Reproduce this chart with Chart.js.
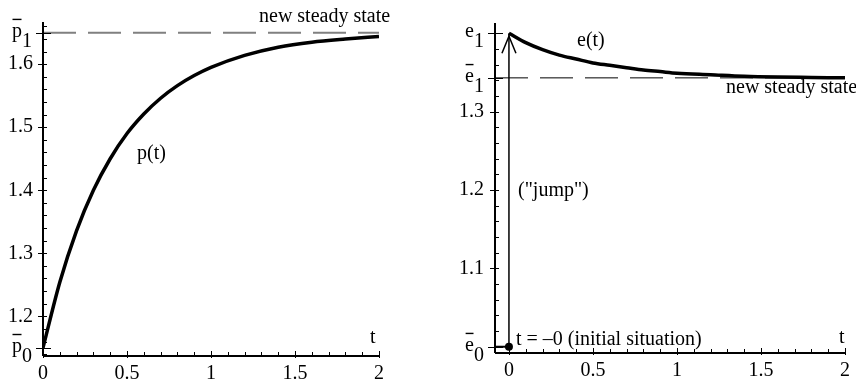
<!DOCTYPE html>
<html>
<head>
<meta charset="utf-8">
<script src="https://cdn.jsdelivr.net/npm/chart.js@4.4.1/dist/chart.umd.min.js"></script>
<style>
  html, body { margin: 0; padding: 0; background: #fff; }
  #wrap { position: relative; width: 856px; height: 380px; }
  canvas { position: absolute; top: 0; }
</style>
</head>
<body>
<div id="wrap">
  <canvas id="chart-p" width="430" height="380" style="left:0"></canvas>
  <canvas id="chart-e" width="426" height="380" style="left:430px"></canvas>
</div>
<script>
// values
const tValues = [0, 0.1, 0.2, 0.3, 0.4, 0.5, 0.6, 0.7, 0.8, 0.9, 1.0, 1.2, 1.4, 1.6, 1.8, 2.0];
const pValues = [1.150, 1.254, 1.336, 1.400, 1.450, 1.490, 1.521, 1.546, 1.566, 1.582, 1.595, 1.614, 1.627, 1.635, 1.640, 1.644];
const eValues = [1.400, 1.388, 1.379, 1.372, 1.367, 1.362, 1.359, 1.356, 1.353, 1.351, 1.349, 1.347, 1.345, 1.344, 1.3435, 1.343];

const pOld = 1.15;
const pNew = 1.65;
const eOld = 1.0;
const eJump = 1.4;
const eNew = 1.343;

const xTicks = [0, 0.5, 1, 1.5, 2];
const pTicks = [1.2, 1.3, 1.4, 1.5, 1.6];
const eTicks = [1.1, 1.2, 1.3];

const FONT = '"Liberation Serif", "Times New Roman", serif';
Chart.defaults.font.family = FONT;
Chart.defaults.font.size = 20;
Chart.defaults.color = '#000';

const pts = (xs, ys) => xs.map((x, i) => ({ x, y: ys[i] }));

function barLabel(ctx, letter, sub, right, yPix, bar) {
  ctx.font = '20px ' + FONT;
  const wl = ctx.measureText(letter).width;
  const ws = ctx.measureText(sub).width;
  const x0 = right - ws - wl;
  ctx.textAlign = 'left';
  ctx.textBaseline = 'alphabetic';
  ctx.fillText(letter, x0, yPix + 4);
  ctx.fillText(sub, x0 + wl, yPix + 14);
  if (bar) ctx.fillRect(x0 + 0.5, yPix - 14, wl - 1, 1.4);
}

// axes, ticks, special labels and notes (Maple style)
const decor = {
  id: 'decor',
  afterDatasetsDraw(chart, args, o) {
    const ctx = chart.ctx;
    const sx = chart.scales.x, sy = chart.scales.y;
    const { left, right, top, bottom } = chart.chartArea;
    ctx.save();
    ctx.strokeStyle = '#000';
    ctx.fillStyle = '#000';

    // axis lines
    ctx.lineWidth = 2;
    ctx.beginPath();
    ctx.moveTo(left, top); ctx.lineTo(left, bottom);
    ctx.moveTo(left, bottom); ctx.lineTo(right + 1, bottom);
    ctx.stroke();

    // y ticks
    ctx.lineWidth = 1;
    ctx.beginPath();
    for (let v = o.yMinor[0]; v <= o.yMinor[1] + 1e-9; v += 0.02) {
      const py = Math.round(sy.getPixelForValue(v)) + 0.5;
      ctx.moveTo(left, py); ctx.lineTo(left + 4, py);
    }
    o.yMajor.forEach(v => {
      const py = Math.round(sy.getPixelForValue(v)) + 0.5;
      ctx.moveTo(left - 5, py); ctx.lineTo(left + 2, py);
    });
    o.special.forEach(s => {
      const py = Math.round(sy.getPixelForValue(s.v)) + 0.5;
      ctx.moveTo(left - 7, py); ctx.lineTo(left + 8, py);
    });
    // x ticks
    for (let t = 0.1; t <= 2.0001; t += 0.1) {
      const px = Math.round(sx.getPixelForValue(t)) + 0.5;
      ctx.moveTo(px, bottom); ctx.lineTo(px, bottom - 4);
    }
    xTicks.forEach(t => {
      const px = Math.round(sx.getPixelForValue(t)) + 0.5;
      ctx.moveTo(px, bottom + 2); ctx.lineTo(px, bottom - 5);
    });
    ctx.stroke();

    // labels with bar and subscript
    o.special.forEach(s => barLabel(ctx, s.letter, s.sub, left - 11, sy.getPixelForValue(s.v), s.bar));

    // arrow head of the jump
    if (o.arrow) {
      const ax = sx.getPixelForValue(o.arrow.x);
      const ay = sy.getPixelForValue(o.arrow.y) + 3;
      ctx.lineWidth = 1.5;
      ctx.beginPath();
      ctx.moveTo(ax - 7, ay + 17); ctx.lineTo(ax, ay); ctx.lineTo(ax + 7, ay + 17);
      ctx.stroke();
    }

    // notes
    ctx.font = '20px ' + FONT;
    ctx.textAlign = 'left';
    ctx.textBaseline = 'alphabetic';
    o.notes.forEach(n => ctx.fillText(n.text, n.x, n.y));
    ctx.restore();
  }
};

function makeScales(xMin, yMin, yMax, yTickVals, yPad, xHeight, yWidth) {
  return {
    x: {
      type: 'linear', min: xMin, max: 2,
      grid: { display: false, drawTicks: false },
      border: { display: false },
      afterBuildTicks: s => { s.ticks = xTicks.map(v => ({ value: v })); },
      afterFit: s => { s.height = xHeight; },
      ticks: { padding: 6, maxRotation: 0, autoSkip: false, callback: v => String(v) }
    },
    y: {
      type: 'linear', min: yMin, max: yMax,
      grid: { display: false, drawTicks: false },
      border: { display: false },
      afterBuildTicks: s => { s.ticks = yTickVals.map(v => ({ value: v })); },
      afterFit: s => { s.width = yWidth; },
      ticks: { padding: yPad, autoSkip: false, callback: v => v.toFixed(1) }
    }
  };
}

const common = {
  responsive: false,
  animation: false,
  events: [],
  plugins: { legend: { display: false }, tooltip: { enabled: false } }
};

new Chart(document.getElementById('chart-p'), {
  type: 'line',
  data: {
    datasets: [
      {
        data: [{ x: 0, y: pNew }, { x: 2, y: pNew }],
        borderColor: '#808080', borderWidth: 2, borderDash: [33, 12], pointRadius: 0
      },
      {
        data: pts(tValues, pValues),
        borderColor: '#000', borderWidth: 3.5, pointRadius: 0,
        cubicInterpolationMode: 'monotone'
      }
    ]
  },
  options: {
    ...common,
    layout: { padding: { top: 18, right: 51, bottom: 0, left: 0 } },
    scales: makeScales(0, 1.137, 1.667, pTicks, 10, 24, 43),
    plugins: {
      ...common.plugins,
      decor: {
        yMinor: [1.14, 1.66],
        yMajor: pTicks,
        special: [
          { v: pNew, letter: 'p', sub: '1', bar: true },
          { v: pOld, letter: 'p', sub: '0', bar: true }
        ],
        notes: [
          { text: 'new steady state', x: 259, y: 22 },
          { text: 'p(t)', x: 137, y: 159 },
          { text: 't', x: 370, y: 343 }
        ]
      }
    }
  },
  plugins: [decor]
});

const eMin = -0.083;
new Chart(document.getElementById('chart-e'), {
  type: 'line',
  data: {
    datasets: [
      {
        data: [{ x: eMin, y: eNew }, { x: 2, y: eNew }],
        borderColor: '#000', borderWidth: 1, borderDash: [33, 12], pointRadius: 0
      },
      {
        data: [{ x: eMin, y: eOld }, { x: 0, y: eOld }],
        borderColor: '#000', borderWidth: 2,
        pointRadius: [0, 4], pointBackgroundColor: '#000', pointBorderWidth: 0
      },
      {
        data: [{ x: 0, y: eOld }, { x: 0, y: eJump }],
        borderColor: '#000', borderWidth: 1.5, pointRadius: 0
      },
      {
        data: pts(tValues, eValues),
        borderColor: '#000', borderWidth: 3.5, pointRadius: 0,
        cubicInterpolationMode: 'monotone'
      }
    ]
  },
  options: {
    ...common,
    layout: { padding: { top: 18, right: 9, bottom: 0, left: 0 } },
    scales: makeScales(eMin, 0.992, 1.413, eTicks, 11, 27, 65),
    plugins: {
      ...common.plugins,
      decor: {
        yMinor: [1.0, 1.40],
        yMajor: eTicks,
        special: [
          { v: eJump, letter: 'e', sub: '1', bar: false },
          { v: eNew, letter: 'e', sub: '1', bar: true },
          { v: eOld, letter: 'e', sub: '0', bar: true }
        ],
        arrow: { x: 0, y: eJump },
        notes: [
          { text: 'e(t)', x: 147, y: 46 },
          { text: 'new steady state', x: 296, y: 93 },
          { text: '("jump")', x: 88, y: 196 },
          { text: 't = \u20130 (initial situation)', x: 86, y: 345 },
          { text: 't', x: 409, y: 343 }
        ]
      }
    }
  },
  plugins: [decor]
});
</script>
</body>
</html>
